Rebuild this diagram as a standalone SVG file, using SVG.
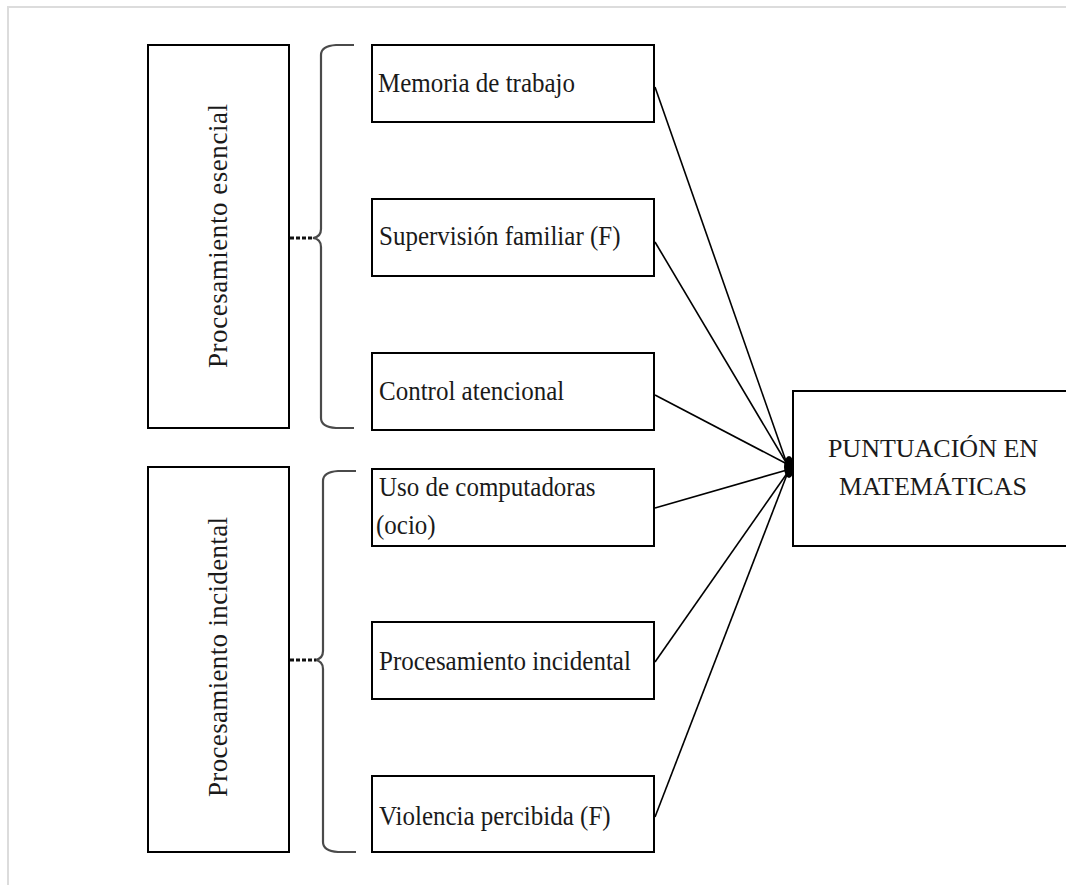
<svg xmlns="http://www.w3.org/2000/svg" width="1066" height="885" viewBox="0 0 1066 885">
<style>
.box{fill:#fff;stroke:#000;stroke-width:2}
.t{font-family:"Liberation Serif","Times New Roman",serif;font-size:25px;fill:#1a1a1a}
.tc{font-family:"Liberation Serif","Times New Roman",serif;font-size:26px;fill:#1a1a1a;text-anchor:middle}
.tv{font-family:"Liberation Serif","Times New Roman",serif;font-size:27px;fill:#1a1a1a;text-anchor:middle}
.brace{fill:none;stroke:#4a4a4a;stroke-width:2.2}
.stub{stroke:#111;stroke-width:3;stroke-dasharray:4 2}
.conn{stroke:#000;stroke-width:1.6;fill:none}
</style>
<rect width="1066" height="885" fill="#fff"/>
<path d="M8,885 L8,7 L1066,7" fill="none" stroke="#dcdcdc" stroke-width="2"/>

<g id="group-esencial">
<rect class="box" x="148" y="45" width="141" height="383"/>
<text class="tv" transform="translate(227,236) rotate(-90)" textLength="264" lengthAdjust="spacing">Procesamiento esencial</text>
</g>
<g id="group-incidental">
<rect class="box" x="148" y="467" width="141" height="385"/>
<text class="tv" transform="translate(227,657) rotate(-90)" textLength="280" lengthAdjust="spacing">Procesamiento incidental</text>
</g>

<g id="brace-esencial">
<path class="brace" d="M354,45 L336,45 Q321,46 321,55 L321,229 Q321,237 313,238 Q321,239 321,247 L321,418 Q321,427 336,428 L354,428"/>
<line class="stub" x1="290" y1="238" x2="314" y2="238"/>
</g>
<g id="brace-incidental">
<path class="brace" d="M356,471 L338,471 Q323,472 323,481 L323,651 Q323,659 315,660 Q323,661 323,669 L323,842 Q323,851 338,852 L356,852"/>
<line class="stub" x1="290" y1="660" x2="316" y2="660"/>
</g>

<g id="node-memoria">
<rect class="box" x="372" y="45" width="282" height="77"/>
<text class="t" transform="translate(378,92) scale(1,1.1)">Memoria de trabajo</text>
</g>
<g id="node-supervision">
<rect class="box" x="372" y="199" width="282" height="77"/>
<text class="t" transform="translate(379,245) scale(1,1.1)">Supervisión familiar (F)</text>
</g>
<g id="node-control">
<rect class="box" x="372" y="353" width="282" height="77"/>
<text class="t" transform="translate(379,400) scale(1,1.1)">Control atencional</text>
</g>
<g id="node-uso">
<rect class="box" x="372" y="469" width="282" height="77"/>
<text class="t" transform="translate(379,496) scale(1,1.1)">Uso de computadoras</text>
<text class="t" transform="translate(376,534) scale(1,1.1)">(ocio)</text>
</g>
<g id="node-procesamiento">
<rect class="box" x="372" y="622" width="282" height="77"/>
<text class="t" transform="translate(379,670) scale(1,1.1)">Procesamiento incidental</text>
</g>
<g id="node-violencia">
<rect class="box" x="372" y="776" width="282" height="76"/>
<text class="t" transform="translate(379,825) scale(1,1.1)">Violencia percibida (F)</text>
</g>

<g id="node-puntuacion">
<rect class="box" x="793" y="391" width="290" height="155"/>
<text class="tc" x="933" y="457">PUNTUACIÓN EN</text>
<text class="tc" x="933" y="495">MATEMÁTICAS</text>
</g>

<g id="connectors">
<line class="conn" x1="655" y1="87" x2="787" y2="464"/>
<line class="conn" x1="655" y1="242" x2="787" y2="464"/>
<line class="conn" x1="655" y1="395" x2="787" y2="464"/>
<line class="conn" x1="655" y1="508" x2="787" y2="470"/>
<line class="conn" x1="655" y1="662" x2="788" y2="472"/>
<line class="conn" x1="655" y1="817" x2="788" y2="472"/>
<ellipse cx="789" cy="467" rx="5" ry="11" fill="#000"/>
</g>
</svg>
